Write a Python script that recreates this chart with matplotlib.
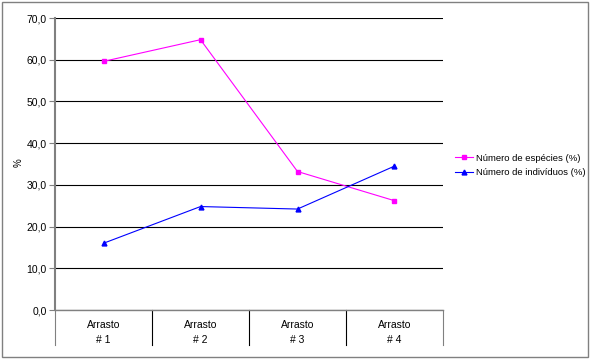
import numpy as np
import matplotlib.pyplot as plt
from matplotlib.patches import Rectangle

plt.rcParams['font.family'] = ['Liberation Sans', 'DejaVu Sans']

# data
categorias = ['Arrasto\n# 1', 'Arrasto\n# 2', 'Arrasto\n# 3', 'Arrasto\n# 4']
especies = [59.6, 64.8, 33.2, 26.2]
individuos = [16.0, 24.8, 24.2, 34.5]
yticks = [0, 10, 20, 30, 40, 50, 60, 70]

fig = plt.figure(figsize=(5.9, 3.59), dpi=100)
ax = fig.add_axes([55 / 590, 1 - 310 / 359, 388 / 590, 292 / 359])

x = np.arange(len(categorias))
ax.plot(x, especies, color='#ff00ff', lw=0.8, marker='s', ms=3.5, label='Número de espécies (%)')
ax.plot(x, individuos, color='#0000ff', lw=0.8, marker='^', ms=3.5, label='Número de indivíduos (%)')

ax.set_xlim(-0.5, len(categorias) - 0.5)
ax.set_ylim(0, 70)
ax.set_yticks(yticks)
ax.yaxis.set_major_formatter(plt.FuncFormatter(lambda v, p: ('%.1f' % v).replace('.', ',')))
ax.tick_params(axis='y', labelsize=7.5, length=4, width=0.8, colors='#808080', labelcolor='black', pad=2)
ax.set_xticks([])
ax.grid(axis='y', color='black', lw=0.8)
ax.set_axisbelow(True)
for s in ['top', 'right']:
    ax.spines[s].set_visible(False)
ax.spines['left'].set_color('#808080')
ax.spines['left'].set_linewidth(1.5)
ax.spines['bottom'].set_color('#808080')
ax.spines['bottom'].set_linewidth(1.0)
fig.text(19 / 590, 1 - 163 / 359, '%', rotation=90, fontsize=7, ha='center', va='center')

# category separators and two-line labels under the axis
trans = ax.get_xaxis_transform()
for b in np.arange(len(categorias) + 1) - 0.5:
    ax.plot([b, b], [0, -0.12], transform=trans, color='black' if 0 < b + 0.5 < len(categorias) else '#808080',
            lw=0.8, clip_on=False)
for i, c in enumerate(categorias):
    top, bot = c.split('\n')
    ax.text(i, -0.05, top, transform=trans, ha='center', va='center', fontsize=7.5)
    ax.text(i, -0.103, bot, transform=trans, ha='center', va='center', fontsize=7.5)

ax.legend(loc='center left', bbox_to_anchor=(1.02, 0.495), frameon=False, fontsize=6.8,
          handlelength=2.0, handletextpad=0.3, labelspacing=0.6, borderaxespad=0)

fig.patches.append(Rectangle((2 / 590, 2 / 359), 586 / 590, 355 / 359, transform=fig.transFigure,
                             fill=False, edgecolor='#808080', lw=1.0))

fig.savefig('out.png', dpi=100)
